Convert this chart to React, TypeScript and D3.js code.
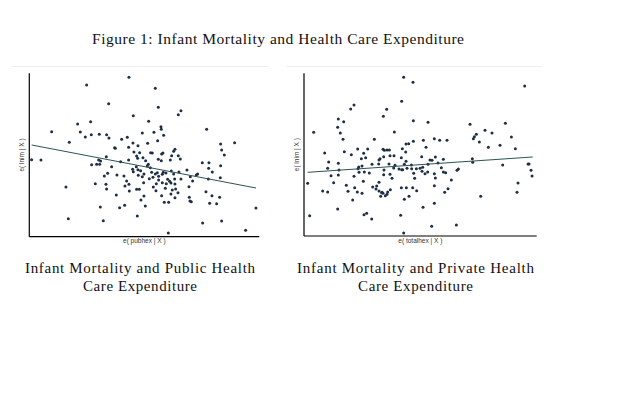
import React from "react";
import * as d3 from "d3";

// Left panel: residual of log infant mortality vs residual of public health expenditure
const pubX: number[] = [
  -0.43, -1.70, 0.36, -1.04, 0.45, 1.13, 1.05, -0.30, -1.97, -1.58, 0.16, 0.53, 0.54, 1.90, -2.75, -1.89,
  -1.56, -1.32, -1.10, -1.74, -1.03, -0.65, -0.48, -0.03, 0.32, 0.61, 0.43, -2.22, -0.86, -0.84, -0.44, -0.31,
  -0.16, 0.13, -0.28, -0.11, 0.22, 0.55, 0.59, 0.27, 0.91, 0.95, 1.05, 2.32, 2.74, 2.35, 2.43, -3.35,
  -3.07, -1.34, -1.28, -1.31, -1.11, -1.55, -1.40, -0.68, -0.44, -0.20, -0.17, -0.01, 0.07, 0.12, 0.15, 0.21,
  0.45, 0.54, 0.81, 1.11, 0.85, 1.77, 1.97, 2.32, 1.96, 2.07, 2.31, -0.95, -0.32, -0.21, -0.16, -0.08,
  -0.30, -1.07, -1.17, -0.79, -0.58, -0.15, 0.02, -0.03, 0.25, 0.36, 0.42, 0.46, 0.57, 0.60, 0.68, 0.84,
  0.91, 1.07, 1.31, 1.41, 1.59, 1.63, 1.95, 0.18, 0.29, 0.46, 0.73, 0.79, 0.94, 1.13, 1.48, -1.44,
  -1.12, -1.10, -0.50, -0.55, -0.43, 0.01, 0.39, 0.57, 0.69, 0.83, 0.95, -2.32, 1.37, -0.20, -0.12, -0.42,
  0.30, 0.38, 0.66, 0.87, 1.04, 0.97, 1.88, 2.06, -0.81, 0.02, 0.55, 0.83, 0.95, 1.38, 1.40, 1.44,
  1.99, 2.20, 2.29, -0.07, 0.63, 0.76, -1.29, -0.71, -0.56, 0.06, -0.18, -2.25, -1.20, 1.78, 2.35, 3.38,
  3.07, 0.75,
];
const pubY: number[] = [
  2.48, 2.25, 2.15, 1.69, 1.58, 1.48, 1.36, 1.33, 1.08, 1.15, 1.16, 1.00, 0.92, 0.92, 0.85, 0.84,
  0.76, 0.77, 0.76, 0.69, 0.66, 0.62, 0.68, 0.81, 0.83, 0.74, 0.58, 0.53, 0.37, 0.35, 0.38, 0.51,
  0.43, 0.50, 0.24, 0.22, 0.22, 0.18, 0.21, 0.21, 0.26, 0.32, 0.13, 0.48, 0.52, 0.30, 0.15, 0.01,
  0.00, 0.00, -0.03, -0.13, 0.10, -0.14, -0.13, -0.05, 0.00, 0.12, 0.05, 0.07, -0.02, -0.18, -0.13, -0.23,
  0.02, -0.02, 0.00, 0.03, 0.13, -0.08, -0.08, -0.17, -0.25, -0.36, -0.53, -0.20, -0.28, -0.20, -0.29, -0.32,
  -0.35, -0.40, -0.48, -0.45, -0.48, -0.46, -0.42, -0.50, -0.37, -0.42, -0.38, -0.49, -0.43, -0.37, -0.39, -0.33,
  -0.42, -0.36, -0.30, -0.50, -0.45, -0.42, -0.57, -0.56, -0.52, -0.60, -0.58, -0.64, -0.57, -0.57, -0.63, -0.71,
  -0.73, -0.87, -0.63, -0.78, -0.73, -0.68, -0.71, -0.68, -0.71, -0.69, -0.72, -0.81, -0.80, -0.88, -0.88, -0.93,
  -0.81, -0.92, -0.85, -0.90, -0.98, -0.87, -0.95, -1.07, -1.05, -1.08, -1.07, -1.02, -1.13, -1.12, -1.23, -1.25,
  -1.30, -1.31, -1.12, -1.20, -1.27, -1.27, -1.41, -1.43, -1.36, -1.38, -1.68, -1.76, -1.82, -1.89, -1.83, -1.44,
  -2.11, -2.19,
];
const pubFitX: number[] = [-3.35, 3.38];
const pubFitY: number[] = [0.45, -0.84];

// Right panel: residual of log infant mortality vs residual of total (private) health expenditure
const totX: number[] = [
  -0.49, -0.21, 3.14, -0.55, -1.98, -2.08, -1.00, -1.10, -2.45, -2.29, -0.20, -2.47, 0.24, 1.50, 2.56, -3.19,
  -2.39, -0.77, 1.95, 2.16, 1.69, 1.63, 1.60, 2.74, -2.31, -1.37, -0.42, -0.34, -0.20, 0.10, 0.43, 0.59,
  0.81, 1.78, 2.40, 2.05, 2.86, -2.86, -2.27, -1.87, -2.06, -1.69, -1.57, -1.11, -1.07, -0.99, -0.92, -0.53,
  -0.43, 0.18, -1.09, -0.90, -0.78, -1.76, -1.63, -1.20, -1.23, -0.56, -0.42, 0.05, 0.30, 0.36, 0.46, 0.70,
  -2.74, -2.45, -1.84, -1.74, -1.44, -1.24, -1.08, -0.93, -0.79, -0.75, -0.63, -0.47, -0.39, -0.26, -0.11, 0.00,
  0.08, 0.24, 0.54, 0.64, 0.23, 1.11, 1.15, 1.57, 1.58, 2.48, 3.24, 3.27, -2.77, -2.43, -1.86, -1.52,
  -0.55, -0.52, -0.25, 0.06, 0.43, 0.70, 0.77, 0.15, 3.33, 3.36, -2.67, -2.45, -1.98, -1.83, -1.67, -1.09,
  -0.90, -0.84, -0.19, -0.16, 0.46, 0.94, -3.37, -2.59, -1.70, -1.23, -2.21, -1.96, -1.42, -1.30, -1.32, -1.23,
  -1.15, -1.11, -1.04, -0.99, -0.97, -1.18, -1.14, -0.89, -0.56, -0.41, -0.22, -0.10, -0.33, 0.43, 0.84, 0.74,
  2.94, 2.91, 1.82, -2.92, -2.77, -2.16, -1.88, -1.74, -2.02, -0.47, 0.43, 0.09, -2.47, -1.68, -1.60, -1.45,
  -0.58, -3.31, 0.35, 1.09, -0.49,
];
const totY: number[] = [
  2.48, 2.33, 2.22, 1.76, 1.65, 1.53, 1.52, 1.31, 1.23, 1.15, 1.18, 0.98, 1.13, 1.07, 1.10, 0.83,
  0.81, 0.84, 0.89, 0.81, 0.77, 0.70, 0.64, 0.69, 0.62, 0.62, 0.48, 0.49, 0.56, 0.59, 0.64, 0.59,
  0.59, 0.54, 0.44, 0.38, 0.34, 0.21, 0.25, 0.33, 0.16, 0.20, 0.33, 0.32, 0.29, 0.30, 0.30, 0.34,
  0.24, 0.38, 0.10, 0.13, 0.13, 0.04, 0.07, 0.04, 0.00, 0.07, -0.04, 0.10, 0.00, -0.01, 0.09, 0.02,
  -0.06, -0.10, -0.21, -0.18, -0.13, -0.12, -0.30, -0.12, -0.24, -0.16, -0.27, -0.13, -0.25, -0.15, -0.26, -0.25,
  -0.22, -0.13, -0.09, -0.23, -0.36, -0.31, -0.27, 0.04, -0.07, -0.15, -0.12, -0.12, -0.25, -0.30, -0.26, -0.39,
  -0.29, -0.29, -0.26, -0.34, -0.41, -0.36, -0.38, -0.41, -0.31, -0.48, -0.47, -0.45, -0.49, -0.37, -0.36, -0.44,
  -0.43, -0.55, -0.40, -0.55, -0.54, -0.60, -0.70, -0.68, -0.64, -0.67, -0.76, -0.83, -0.81, -0.78, -0.87, -0.93,
  -0.98, -1.00, -1.07, -1.03, -0.96, -1.09, -0.97, -0.89, -0.83, -0.83, -0.83, -0.92, -1.09, -0.77, -0.86, -0.97,
  -0.69, -0.97, -1.09, -0.93, -0.96, -0.94, -0.96, -1.00, -1.20, -1.18, -1.30, -1.42, -1.47, -1.64, -1.60, -1.77,
  -1.66, -1.67, -1.99, -1.95, -2.19,
];
const totFitX: number[] = [-3.37, 3.38];
const totFitY: number[] = [-0.37, 0.09];

const figureTitle = "Figure 1: Infant Mortality and Health Care Expenditure";
const leftCaption = ["Infant Mortality and Public Health", "Care Expenditure"];
const rightCaption = ["Infant Mortality and Private Health", "Care Expenditure"];
const yLabel = "e( lnim | X )";
const leftXLabel = "e( pubhex | X )";
const rightXLabel = "e( totalhex | X )";

const MARK = "#1d2f45";
const LINE = "#2e5252";
const SERIF = "'Liberation Serif', 'DejaVu Serif', serif";
const SANS = "'Liberation Sans', Arial, sans-serif";

type PanelProps = {
  xs: number[];
  ys: number[];
  fitX: number[];
  fitY: number[];
  xDomain: [number, number];
  yDomain: [number, number];
  xRange: [number, number];
  yRange: [number, number];
  frame: [number, number];
  xLabel: string;
  yLabelX: number;
};

function Panel(p: PanelProps) {
  const x = d3.scaleLinear().domain(p.xDomain).range(p.xRange);
  const y = d3.scaleLinear().domain(p.yDomain).range(p.yRange);
  const line = d3
    .line<number>()
    .x((d) => x(p.fitX[d]))
    .y((d) => y(p.fitY[d]));
  const [x0, x1] = p.xRange;
  const [yb, yt] = p.yRange;
  const cy = (yb + yt) / 2;
  const cx = (x0 + x1) / 2;
  return (
    <g>
      <line x1={p.frame[0]} x2={p.frame[1]} y1={66.5} y2={66.5} stroke="#eeeeee" strokeWidth={1} />
      {p.xs.map((v, i) => (
        <circle key={i} cx={x(v)} cy={y(p.ys[i])} r={1.5} fill={MARK} />
      ))}
      <path d={line(d3.range(p.fitX.length)) || ""} fill="none" stroke={LINE} strokeWidth={1} />
      <line x1={x0} x2={x0} y1={yt} y2={yb} stroke="#000" strokeWidth={1.2} />
      <line x1={x0} x2={x1} y1={yb} y2={yb} stroke="#000" strokeWidth={1.2} />
      <text
        x={p.yLabelX}
        y={cy}
        transform={`rotate(-90 ${p.yLabelX} ${cy})`}
        textAnchor="middle"
        fontFamily={SANS}
        fontSize={6.5}
        fill="#333"
      >
        {yLabel}
      </text>
      <text x={cx} y={yb + 6.5} textAnchor="middle" fontFamily={SANS} fontSize={6.5} fill="#333">
        {p.xLabel}
      </text>
    </g>
  );
}

function Caption({ lines, cx, widths }: { lines: string[]; cx: number; widths: number[] }) {
  return (
    <g>
      {lines.map((t, i) => (
        <text
          key={t}
          x={cx - widths[i] / 2}
          y={273 + i * 18}
          textLength={widths[i]}
          lengthAdjust="spacing"
          fontFamily={SERIF}
          fontSize={15}
          fill="#111"
        >
          {t}
        </text>
      ))}
    </g>
  );
}

export default function App() {
  return (
    <svg
      width={640}
      height={400}
      style={{ position: "absolute", left: 0, top: 0, background: "#fff" }}
    >
      <rect width={640} height={400} fill="#fff" />
      <text
        x={92}
        y={44}
        textLength={372}
        lengthAdjust="spacing"
        fontFamily={SERIF}
        fontSize={15.5}
        fill="#111"
      >
        {figureTitle}
      </text>
      <Panel
        xs={pubX}
        ys={pubY}
        fitX={pubFitX}
        fitY={pubFitY}
        xDomain={[-3.42, 3.48]}
        yDomain={[-2.3, 2.6]}
        xRange={[29.3, 259.3]}
        yRange={[236.7, 73.3]}
        frame={[12, 268]}
        xLabel={leftXLabel}
        yLabelX={24}
      />
      <Panel
        xs={totX}
        ys={totY}
        fitX={totFitX}
        fitY={totFitY}
        xDomain={[-3.48, 3.5]}
        yDomain={[-2.28, 2.6]}
        xRange={[304, 536.7]}
        yRange={[236, 73.3]}
        frame={[287, 542]}
        xLabel={rightXLabel}
        yLabelX={299}
      />
      <Caption lines={leftCaption} cx={140} widths={[230, 114]} />
      <Caption lines={rightCaption} cx={415.5} widths={[237, 115]} />
    </svg>
  );
}
